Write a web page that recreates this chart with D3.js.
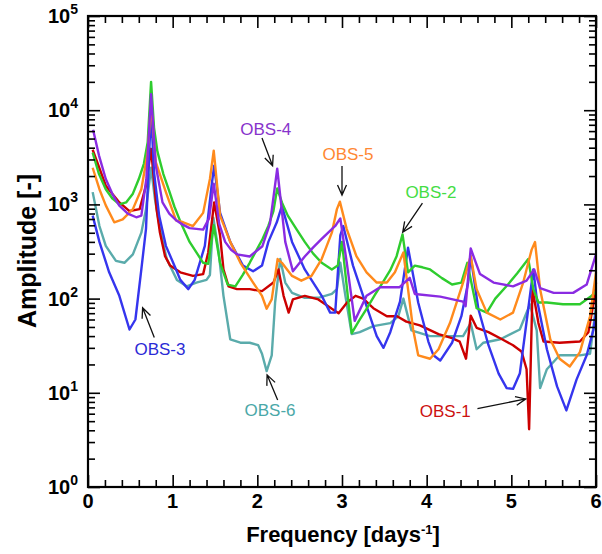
<!DOCTYPE html>
<html><head><meta charset="utf-8">
<script src="https://cdn.jsdelivr.net/npm/d3@7"></script>
<style>body{margin:0;background:#fff}svg{display:block}</style>
</head><body><svg id="c" width="602" height="554"></svg>
<script>
// ---- data: [frequency (1/day), amplitude] ----
const obs1 = [[0.055,3800],[0.21,1580],[0.37,1050],[0.49,850],[0.61,890],[0.685,1580],[0.745,3890],[0.81,890],[0.85,500],[0.91,282],[0.97,224],[1.09,190],[1.24,174],[1.36,182],[1.42,309],[1.49,1050],[1.56,468],[1.60,204],[1.66,135],[1.76,126],[1.91,126],[2.055,120],[2.19,148],[2.25,204],[2.31,107],[2.37,71],[2.42,98],[2.56,107],[2.72,98],[2.88,78],[2.96,70],[3.06,91],[3.16,107],[3.25,100],[3.37,79],[3.53,65],[3.65,65],[3.76,57],[3.92,52],[4.14,42],[4.30,38],[4.39,35],[4.465,23],[4.52,66],[4.59,49],[4.73,44],[4.89,37],[5.02,32],[5.12,27.5],[5.18,17.8],[5.21,4.1],[5.25,126],[5.32,55],[5.38,35],[5.57,34],[5.81,35],[5.91,44],[5.97,89],[6.0,148]];
const obs2 = [[0.055,3550],[0.13,2100],[0.21,1450],[0.29,1150],[0.37,1000],[0.45,1050],[0.53,1300],[0.60,1860],[0.66,2700],[0.705,4570],[0.745,20000],[0.78,6500],[0.82,3630],[0.89,2100],[0.96,1380],[1.02,950],[1.09,660],[1.20,400],[1.29,300],[1.36,240],[1.42,234],[1.485,600],[1.56,240],[1.65,141],[1.74,135],[1.83,180],[1.91,240],[2.06,427],[2.13,590],[2.19,850],[2.235,1480],[2.29,1050],[2.36,760],[2.46,550],[2.56,400],[2.66,300],[2.76,240],[2.88,204],[2.95,224],[3.0,400],[3.115,43],[3.20,58],[3.29,78],[3.39,110],[3.48,148],[3.57,200],[3.645,282],[3.715,480],[3.78,190],[3.86,224],[3.95,215],[4.04,204],[4.18,165],[4.30,141],[4.41,148],[4.48,240],[4.59,79],[4.71,71],[4.81,100],[4.96,141],[5.07,186],[5.20,263],[5.26,126],[5.32,91],[5.42,91],[5.61,87],[5.81,87],[5.95,107],[6.0,120]];
const obs3 = [[0.055,760],[0.135,400],[0.25,190],[0.37,107],[0.49,47],[0.56,60],[0.63,204],[0.685,550],[0.73,5000],[0.75,7900],[0.78,2190],[0.84,760],[0.92,363],[1.04,204],[1.09,158],[1.185,126],[1.26,158],[1.38,363],[1.46,1580],[1.49,2570],[1.56,813],[1.68,400],[1.83,224],[1.95,195],[2.055,224],[2.13,400],[2.23,646],[2.29,966],[2.41,400],[2.56,204],[2.76,107],[2.86,71],[2.92,71],[2.98,468],[3.015,589],[3.13,224],[3.29,83],[3.41,40],[3.49,30],[3.57,44],[3.685,93],[3.78,347],[3.90,91],[4.02,35],[4.08,25],[4.16,22],[4.30,34],[4.41,65],[4.49,148],[4.52,282],[4.61,78],[4.73,32],[4.85,16],[4.945,11.2],[5.02,11],[5.10,16],[5.20,78],[5.26,204],[5.30,100],[5.42,29],[5.54,11.7],[5.65,6.5],[5.77,13.8],[5.89,25],[5.97,47],[6.0,71]];
const obs4 = [[0.06,6200],[0.13,3300],[0.21,1860],[0.29,1280],[0.37,970],[0.47,800],[0.57,730],[0.63,760],[0.69,1900],[0.745,14800],[0.80,2600],[0.88,1050],[0.96,800],[1.04,680],[1.12,610],[1.20,560],[1.36,540],[1.43,710],[1.485,1660],[1.55,620],[1.62,400],[1.69,330],[1.76,295],[1.91,280],[2.06,360],[2.15,630],[2.235,2400],[2.33,400],[2.42,195],[2.56,280],[2.66,350],[2.76,430],[2.92,590],[2.98,710],[3.055,245],[3.15,58],[3.29,107],[3.45,132],[3.68,132],[3.80,166],[3.86,112],[4.16,105],[4.43,93],[4.46,83],[4.52,340],[4.63,182],[4.79,148],[5.02,135],[5.18,155],[5.27,204],[5.34,129],[5.50,115],[5.73,115],[5.89,141],[6.0,295]];
const obs5 = [[0.055,2450],[0.135,1450],[0.21,977],[0.31,646],[0.41,692],[0.53,891],[0.63,1450],[0.705,3550],[0.745,11750],[0.80,2820],[0.92,1350],[1.04,676],[1.125,646],[1.24,589],[1.36,813],[1.44,1860],[1.485,3720],[1.56,760],[1.68,400],[1.80,240],[1.95,148],[2.055,107],[2.11,78],[2.17,98],[2.24,263],[2.29,240],[2.41,174],[2.52,155],[2.64,174],[2.76,263],[2.88,501],[2.94,891],[2.975,1070],[3.055,550],[3.17,282],[3.29,190],[3.41,148],[3.53,148],[3.625,190],[3.725,309],[3.78,126],[3.84,47],[3.90,25],[4.04,23],[4.14,29],[4.275,55],[4.43,148],[4.52,282],[4.59,126],[4.71,71],[4.87,60],[5.02,71],[5.14,148],[5.24,331],[5.28,398],[5.34,126],[5.46,37],[5.57,23],[5.69,19],[5.81,27],[5.93,65],[6.0,190]];
const obs6 = [[0.055,1350],[0.135,589],[0.21,363],[0.33,251],[0.43,240],[0.53,295],[0.63,501],[0.685,891],[0.745,2450],[0.79,1150],[0.85,550],[0.93,263],[1.05,158],[1.165,135],[1.28,148],[1.40,158],[1.44,178],[1.48,724],[1.54,331],[1.60,107],[1.68,37],[1.80,34],[1.91,34],[2.01,32],[2.055,26],[2.11,17],[2.17,25],[2.21,91],[2.27,263],[2.33,148],[2.41,115],[2.56,102],[2.72,102],[2.88,112],[2.94,126],[2.98,240],[3.04,107],[3.115,42],[3.21,44],[3.37,51],[3.57,55],[3.665,65],[3.725,100],[3.82,46],[4.04,40],[4.43,40],[4.52,55],[4.59,29],[4.67,34],[4.87,37],[5.10,47],[5.22,87],[5.30,46],[5.34,11.2],[5.42,17.8],[5.57,25],[5.81,25],[5.93,26],[6.0,83]];

const seriesNames = ["OBS-6","OBS-1","OBS-3","OBS-2","OBS-5","OBS-4"];
const seriesData = [obs6, obs1, obs3, obs2, obs5, obs4];
const seriesColors = ["#5aabab","#cc0000","#3535ee","#2ecc2e","#ff8a1c","#8a2be2"];

const xTicks = [0,1,2,3,4,5,6];
const xMinor = d3.range(0, 6.001, 0.2);
const yExponents = [0,1,2,3,4,5];

// annotations: label, text anchor point [f, amp], arrow tail [f, amp], arrow tip [f, amp], colour
const annotLabels = ["OBS-4","OBS-5","OBS-2","OBS-3","OBS-6","OBS-1"];
const annotText = [[2.10,6300],[3.07,3440],[4.05,1370],[0.85,29],[2.15,6.6],[4.22,6.5]];
const annotTail = [[2.055,5070],[3.0,2550],[3.95,1030],[0.783,38.7],[2.24,8.4],[4.60,6.8]];
const annotTip = [[2.18,2570],[3.0,1256],[3.717,507],[0.645,80],[2.115,15.5],[5.17,8.6]];
const annotColors = ["#8833cc","#ff8833","#44dd44","#2b2bd6","#4aa8a8","#cc1111"];

// ---- drawing ----
const svg = d3.select("#c");
const x = d3.scaleLinear().domain([0,6]).range([88,596]);
const y = d3.scaleLog().domain([1,1e5]).range([487,16]);
const font = "Arial, 'Liberation Sans', Helvetica, sans-serif";

const line = d3.line().x(d=>x(d[0])).y(d=>y(d[1]));
const g = svg.append("g");
seriesData.forEach((d,i)=>{
  g.append("path").attr("d", line(d)).attr("fill","none")
   .attr("stroke", seriesColors[i]).attr("stroke-width",2.4).attr("stroke-linejoin","round");
});

// axes (ticks inside, mirrored)
const axG = svg.append("g");
const majorLen = 12, minorLen = 7;
function tickAxis(axisFn, scale, vals, len, transform){
  axG.append("g").attr("transform",transform)
    .call(axisFn(scale).tickValues(vals).tickSize(len).tickFormat(""))
    .call(s=>s.select(".domain").remove())
    .call(s=>s.selectAll("line").attr("stroke","#000").attr("stroke-width",1.6));
}
const xMinorOnly = xMinor.filter(v=>Math.abs(v-Math.round(v))>1e-6);
tickAxis(d3.axisBottom, x, xTicks, -majorLen, `translate(0,${y(1)})`);
tickAxis(d3.axisBottom, x, xMinorOnly, -minorLen, `translate(0,${y(1)})`);
tickAxis(d3.axisTop, x, xTicks, -majorLen, `translate(0,${y(1e5)})`);
tickAxis(d3.axisTop, x, xMinorOnly, -minorLen, `translate(0,${y(1e5)})`);
const yMajor = yExponents.map(e=>Math.pow(10,e));
const yMinor = [];
yExponents.slice(0,-1).forEach(e=>{ for(let k=2;k<=9;k++) yMinor.push(k*Math.pow(10,e)); });
tickAxis(d3.axisLeft, y, yMajor, -majorLen, `translate(${x(0)},0)`);
tickAxis(d3.axisLeft, y, yMinor, -minorLen, `translate(${x(0)},0)`);
tickAxis(d3.axisRight, y, yMajor, -majorLen, `translate(${x(6)},0)`);
tickAxis(d3.axisRight, y, yMinor, -minorLen, `translate(${x(6)},0)`);
axG.append("rect").attr("x",x(0)).attr("y",y(1e5)).attr("width",x(6)-x(0)).attr("height",y(1)-y(1e5))
  .attr("fill","none").attr("stroke","#000").attr("stroke-width",2.2);

// x tick labels
svg.append("g").selectAll("text").data(xTicks).join("text")
  .attr("x",d=>x(d)).attr("y",y(1)+21).attr("text-anchor","middle")
  .attr("font-family",font).attr("font-weight","bold").attr("font-size",20).text(d=>d);

// y tick labels 10^n
yExponents.forEach(e=>{
  const t = svg.append("text").attr("x",x(0)-10).attr("y",y(Math.pow(10,e))+7)
    .attr("text-anchor","end").attr("font-family",font).attr("font-weight","bold").attr("font-size",20);
  t.append("tspan").text("10");
  t.append("tspan").attr("dy",-9).attr("font-size",14).text(e);
});

// axis titles
const xt = svg.append("text").attr("x",343).attr("y",542).attr("text-anchor","middle")
  .attr("font-family",font).attr("font-weight","bold").attr("font-size",22);
xt.append("tspan").text("Frequency [days");
xt.append("tspan").attr("dy",-8).attr("font-size",13).text("-1");
xt.append("tspan").attr("dy",8).text("]");
svg.append("text").attr("transform",`translate(36,251) rotate(-90)`)
  .attr("text-anchor","middle").attr("font-family",font).attr("font-weight","bold").attr("font-size",25)
  .text("Amplitude [-]");

// annotations
const an = svg.append("g");
annotLabels.forEach((lab,i)=>{
  an.append("text").attr("x",x(annotText[i][0])).attr("y",y(annotText[i][1])).attr("dy","0.36em")
    .attr("text-anchor","middle").attr("font-family",font).attr("font-size",17)
    .attr("fill",annotColors[i]).text(lab);
  const x1=x(annotTail[i][0]), y1=y(annotTail[i][1]), x2=x(annotTip[i][0]), y2=y(annotTip[i][1]);
  const ang = Math.atan2(y2-y1,x2-x1), L=11, a=0.42;
  const p = d3.path();
  p.moveTo(x1,y1); p.lineTo(x2,y2);
  p.moveTo(x2-L*Math.cos(ang-a), y2-L*Math.sin(ang-a)); p.lineTo(x2,y2);
  p.lineTo(x2-L*Math.cos(ang+a), y2-L*Math.sin(ang+a));
  an.append("path").attr("d",p.toString()).attr("fill","none").attr("stroke","#111").attr("stroke-width",1.3);
});
</script></body></html>
